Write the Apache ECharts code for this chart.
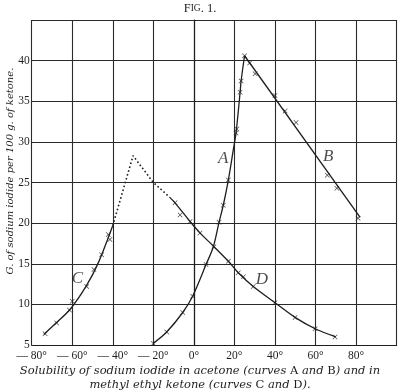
<!DOCTYPE html>
<html><head><meta charset="utf-8">
<script src="https://cdn.jsdelivr.net/npm/echarts@6/dist/echarts.min.js"></script>
<style>html,body{margin:0;padding:0;background:#fff}#c{width:400px;height:392px}</style>
</head><body><div id="c"></div>
<script>
// Data (temperature °C, g NaI per 100 g ketone)
const curveA = [[-20,5.2],[-13.4,6.6],[-5.5,9.0],[-0.6,11.0],[6,14.9],[9.6,17.1],[12.4,20.1],[14.5,22.2],[17,25.3],[19.5,29.1],[20.8,31.1],[22.8,36.1],[23.3,37.5],[25,40.6]];
const markA = [[-20,5.2],[-13.4,6.6],[-5.5,9.0],[-0.6,11.0],[6,14.9],[12.4,20.1],[14.5,22.2],[17,25.3],[20.8,31.1],[21.2,31.6],[22.8,36.1],[23.3,37.5],[25,40.6]];
const curveB = [[25,40.6],[82,20.7]];
const markB = [[27.5,39.7],[30.2,38.4],[40,35.7],[45,33.8],[50.4,32.4],[65.8,25.9],[70.5,24.3],[81,20.6]];
const curveC = [[-74,6.3],[-68,7.7],[-61,9.4],[-53,12.3],[-47,15.2],[-40,19.7]];
const markC = [[-73.4,6.4],[-67.7,7.7],[-61.4,9.3],[-60,10.4],[-52.9,12.2],[-49.3,14.3],[-45.5,16.1],[-41.4,18.0],[-42.2,18.6]];
const curveD = [[-12,23.2],[-9.3,22.5],[-1.9,20.2],[3,18.8],[9.9,17.1],[17,15.3],[21.9,13.9],[29.3,12.2],[40,10.2],[49.9,8.4],[59.8,7.0],[70,6.0]];
const markD = [[-9.3,22.5],[-6.8,21.0],[-1.9,20.2],[3,18.8],[9.9,17.1],[17,15.3],[21.9,13.9],[24.4,13.4],[29.3,12.2],[40,10.2],[49.9,8.4],[59.8,7.0],[69.6,6.0]];
const dottedCD = [[-40,19.7],[-30,28.3],[-20,25.0],[-12,23.2]];
const curveLabels = [{name:'A',value:[14.5,28.0]},{name:'B',value:[66.3,28.2]},{name:'C',value:[-57.5,13.2]},{name:'D',value:[33.5,13.0]}];
const xTicks = [-80,-60,-40,-20,0,20,40,60,80];
const yTicks = [5,10,15,20,25,30,35,40];

const serif = '"Liberation Serif","DejaVu Serif",serif';
const wide = '"DejaVu Serif","Liberation Serif",serif';
const ink = '#1e1e1e';
const cross = 'path://M0,1L1,0L5,4L9,0L10,1L6,5L10,9L9,10L5,6L1,10L0,9L4,5Z';

function lineS(data, smooth, dotted){
  return {type:'line', data, smooth, symbol:'none', silent:true,
    lineStyle:{color:ink, width:dotted?1.6:1.3, type:dotted?[1.6,2.4]:'solid'}, z:3};
}
function markS(data){
  return {type:'scatter', data, symbol:cross, symbolSize:5, itemStyle:{color:ink}, z:4, silent:true};
}

const chart = echarts.init(document.getElementById('c'), null, {renderer:'canvas'});
chart.setOption({
  backgroundColor:'#fff',
  animation:false,
  grid:{left:31.7, right:3.4, top:20, bottom:47},
  xAxis:{type:'value', min:-80, max:100, interval:20,
    axisLine:{show:true, lineStyle:{color:ink, width:1.2}},
    axisTick:{show:false},
    splitLine:{show:true, lineStyle:{color:'#2a2a2a', width:1.1}},
    axisLabel:{fontFamily:serif, fontSize:11.5, color:ink, margin:5,
      formatter:v=> xTicks.indexOf(v)<0 ? '' : (v<0 ? '\u2014 '+(-v)+'°' : v+'°')}},
  yAxis:{type:'value', min:5, max:45, interval:5,
    axisLine:{show:true, lineStyle:{color:ink, width:1.2}},
    axisTick:{show:false},
    splitLine:{show:true, lineStyle:{color:'#2a2a2a', width:1.1}},
    axisLabel:{fontFamily:serif, fontSize:11.5, color:ink, margin:2,
      formatter:v=> yTicks.indexOf(v)<0 ? '' : String(v)}},
  series:[
    lineS(curveA, 0.3), markS(markA),
    lineS(curveB, false), markS(markB),
    lineS(curveC, 0.3), markS(markC),
    lineS(curveD, 0.3), markS(markD),
    lineS(dottedCD, false, true),
    {type:'scatter', data:curveLabels, symbolSize:0, silent:true, z:5,
      label:{show:true, position:'inside', formatter:p=>p.name, fontFamily:serif, fontStyle:'italic', fontSize:17, color:ink}}
  ],
  graphic:[
    {type:'text', left:'center', top:2, style:{
      rich:{a:{fontFamily:serif, fontSize:12.5, fill:ink}, b:{fontFamily:serif, fontSize:9.5, fill:ink}},
      text:'{a|F}{b|IG}{a|. 1.}'}},
    {type:'text', x:5, y:171, rotation:Math.PI/2, style:{
      text:'G. of sodium iodide per 100 g. of ketone.', fontFamily:wide, fontStyle:'italic', fontSize:10,
      fill:ink, align:'center', verticalAlign:'top'}},
    {type:'text', left:'center', top:365, style:{
      rich:{i:{fontFamily:wide, fontStyle:'italic', fontSize:11.5, fill:ink}, n:{fontFamily:wide, fontSize:11.5, fill:ink}},
      text:'{i|Solubility of sodium iodide in acetone (curves }{n|A}{i| and }{n|B}{i|) and in}'}},
    {type:'text', left:'center', top:379, style:{
      rich:{i:{fontFamily:wide, fontStyle:'italic', fontSize:11.5, fill:ink}, n:{fontFamily:wide, fontSize:11.5, fill:ink}},
      text:'{i|methyl ethyl ketone (curves }{n|C}{i| and }{n|D}{i|).}'}}
  ]
});
</script></body></html>
